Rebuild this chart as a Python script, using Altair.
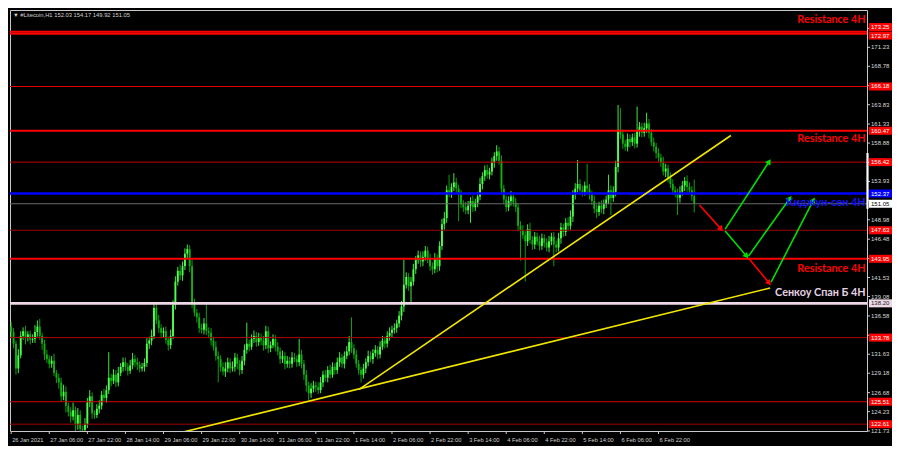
import math
import altair as alt
import pandas as pd

# ---------------- data ----------------
start_open = 135.2
closes = [
    134.5, 133.0, 129.8, 131.5, 134.0, 134.6, 133.8, 134.2, 133.5, 133.6, 134.5, 135.2, 134.0, 133.0, 131.6, 131.0,
    130.4, 130.8, 129.2, 128.6, 128.0, 126.2, 126.8, 125.0, 124.2, 123.6, 124.4, 122.6, 123.8, 122.0, 121.9, 122.6,
    125.4, 126.2, 124.0, 123.8, 124.6, 125.0, 126.4, 126.0, 127.0, 128.6, 128.2, 129.0, 128.0, 129.2, 130.0, 130.6,
    130.0, 129.5, 130.2, 131.0, 130.6, 130.3, 129.8, 130.0, 130.5, 133.0, 133.4, 134.0, 137.6, 136.0, 135.0, 134.4,
    134.6, 133.5, 132.8, 134.0, 138.0, 141.0, 142.4, 141.8, 143.0, 144.6, 145.2, 143.0, 138.2, 137.0, 136.4, 135.0,
    134.8, 135.6, 134.6, 134.4, 133.4, 132.6, 131.4, 131.0, 130.0, 129.4, 129.8, 130.6, 129.8, 130.0, 131.2, 130.4,
    129.6, 130.8, 132.2, 133.0, 132.6, 133.6, 134.0, 133.2, 133.8, 133.4, 132.8, 134.6, 132.4, 132.8, 133.6, 132.6,
    132.0, 131.0, 131.4, 130.4, 130.8, 130.4, 131.2, 131.0, 130.6, 131.6, 130.4, 129.0, 127.6, 126.6, 127.2, 127.6,
    127.4, 127.0, 128.0, 129.0, 128.6, 129.6, 129.0, 130.0, 129.6, 130.6, 131.2, 130.4, 131.4, 132.0, 133.2, 132.4,
    131.6, 130.4, 129.6, 129.0, 129.8, 130.6, 131.4, 131.0, 131.8, 132.2, 131.6, 132.6, 133.4, 133.0, 134.0, 134.4,
    134.8, 135.0, 135.6, 136.6, 137.8, 140.6, 141.6, 140.4, 141.0, 142.6, 143.8, 144.4, 143.6, 144.2, 145.0, 144.0,
    143.0, 142.6, 144.0, 143.0, 145.6, 148.4, 149.2, 152.8, 152.4, 153.2, 153.8, 153.0, 152.2, 151.0, 150.6, 150.2,
    150.8, 151.4, 150.6, 151.2, 152.0, 153.6, 154.6, 155.4, 154.8, 155.2, 156.4, 157.2, 157.8, 156.6, 153.0, 151.6,
    150.6, 151.4, 152.0, 151.2, 150.6, 148.2, 147.6, 147.0, 146.2, 147.8, 146.4, 145.8, 146.8, 146.2, 145.6, 146.6,
    146.0, 145.4, 146.2, 146.8, 145.8, 145.4, 146.6, 148.0, 147.4, 148.6, 148.2, 149.4, 152.2, 153.0, 153.6, 152.8,
    152.6, 153.4, 153.0, 152.2, 151.4, 150.4, 150.0, 150.8, 150.4, 151.0, 151.6, 152.8, 151.8, 152.6, 155.8, 160.6,
    160.0, 158.8, 158.4, 159.4, 159.0, 159.6, 158.8, 160.4, 161.0, 160.2, 160.8, 161.4, 160.2, 159.0, 158.4, 157.6,
    157.0, 156.4, 155.2, 155.6, 154.4, 153.6, 152.8, 152.4, 151.8, 152.6, 153.4, 154.0, 153.2, 152.8, 152.03, 151.05,
]
upper_wick = [
    0.6, 0.5, 0.4, 0.8, 0.6, 0.5, 0.7, 0.4, 0.5, 0.6, 0.9, 0.8, 1.0, 0.4, 0.5, 0.6,
    0.5, 0.6, 0.9, 0.4, 0.5, 0.6, 0.9, 0.7, 0.4, 0.6, 1.0, 0.5, 0.9, 0.6, 0.4, 0.8,
    0.6, 0.8, 0.5, 0.4, 0.6, 0.7, 0.5, 0.8, 0.6, 3.3, 0.5, 0.7, 0.6, 0.8, 0.5, 0.6,
    0.6, 0.5, 0.7, 0.8, 0.5, 0.6, 0.4, 0.5, 0.6, 0.7, 0.5, 0.8, 0.5, 0.6, 0.7, 0.5,
    0.5, 0.6, 0.4, 0.8, 0.6, 0.7, 0.5, 0.8, 0.6, 0.7, 0.6, 0.5, 0.8, 0.6, 0.5, 0.6,
    0.6, 0.7, 2.7, 0.5, 0.6, 0.5, 0.7, 0.6, 0.5, 0.6, 0.8, 0.6, 0.5, 0.7, 0.6, 0.5,
    0.5, 0.6, 0.7, 2.7, 0.5, 0.6, 0.7, 0.5, 0.6, 0.5, 0.6, 0.7, 0.6, 0.5, 0.6, 0.5,
    0.6, 0.5, 0.7, 0.5, 0.6, 0.5, 0.7, 0.6, 0.5, 2.0, 0.6, 0.5, 0.6, 0.5, 0.7, 0.6,
    0.5, 0.6, 0.7, 0.5, 0.6, 0.5, 0.7, 0.6, 0.5, 0.6, 0.7, 0.5, 0.6, 0.7, 0.8, 3.2,
    0.5, 0.6, 0.5, 0.4, 0.6, 0.5, 0.7, 0.6, 0.5, 0.6, 0.5, 0.7, 0.6, 0.5, 0.6, 0.7,
    0.5, 0.6, 0.5, 0.6, 0.7, 3.2, 0.6, 0.5, 0.6, 0.7, 0.5, 0.6, 0.5, 0.7, 0.6, 0.5,
    0.6, 0.5, 0.7, 0.5, 0.6, 0.7, 0.8, 0.6, 2.0, 0.5, 1.2, 0.6, 0.5, 0.6, 0.5, 0.7,
    0.6, 0.5, 0.7, 0.5, 0.6, 0.8, 0.5, 0.6, 0.7, 0.5, 0.6, 0.5, 0.8, 0.6, 0.7, 0.5,
    0.5, 0.6, 0.7, 0.5, 0.6, 0.5, 0.6, 0.7, 0.5, 0.6, 0.8, 0.5, 0.6, 0.5, 0.7, 0.6,
    0.5, 0.6, 0.7, 0.5, 0.6, 0.5, 0.7, 0.6, 0.5, 0.6, 0.7, 0.8, 0.6, 0.7, 3.1, 0.6,
    0.6, 0.5, 2.8, 0.6, 0.5, 0.7, 0.6, 0.5, 0.7, 0.6, 0.5, 2.0, 0.6, 0.7, 0.8, 3.2,
    2.8, 0.6, 0.5, 0.7, 0.6, 0.5, 0.6, 3.2, 0.6, 0.5, 0.7, 1.4, 0.6, 0.5, 0.6, 0.5,
    0.6, 0.5, 0.7, 0.6, 0.5, 0.7, 0.6, 0.5, 0.6, 0.7, 0.6, 0.5, 0.7, 0.6, 0.5, 2.14,
]
lower_wick = [
    0.8, 0.6, 0.8, 0.6, 0.4, 0.5, 0.9, 0.5, 0.6, 0.4, 0.5, 0.6, 0.5, 0.8, 0.7, 0.5,
    0.6, 0.5, 0.4, 0.7, 0.8, 0.6, 0.5, 0.9, 0.6, 0.8, 0.5, 0.9, 0.7, 1.0, 0.8, 0.6,
    0.5, 0.6, 0.7, 0.5, 0.4, 0.6, 0.5, 0.4, 0.6, 0.5, 0.7, 0.4, 0.6, 0.5, 0.4, 0.6,
    0.5, 0.6, 0.4, 0.5, 0.6, 0.7, 0.5, 0.4, 0.6, 0.5, 0.7, 0.6, 0.4, 0.5, 0.6, 0.7,
    0.6, 0.5, 0.7, 0.5, 0.4, 0.6, 0.5, 0.6, 0.7, 0.5, 0.6, 0.8, 0.6, 0.5, 0.7, 0.6,
    0.5, 0.6, 0.5, 0.7, 0.6, 0.5, 0.6, 3.0, 0.6, 0.5, 0.7, 0.5, 0.6, 0.4, 0.6, 0.7,
    0.7, 0.5, 0.6, 0.5, 0.6, 0.4, 0.5, 0.6, 0.5, 0.6, 0.7, 0.5, 0.6, 0.5, 0.4, 0.6,
    0.5, 0.6, 0.5, 0.7, 0.5, 0.6, 0.5, 0.4, 0.6, 0.5, 0.6, 0.7, 0.8, 0.9, 0.6, 0.5,
    0.6, 0.5, 0.4, 0.6, 0.5, 0.6, 0.5, 0.4, 0.6, 0.5, 0.6, 0.5, 0.6, 0.4, 0.5, 0.6,
    0.6, 0.5, 0.6, 1.0, 0.5, 0.6, 0.5, 0.4, 0.6, 0.5, 0.6, 0.5, 0.4, 0.6, 0.5, 0.6,
    0.6, 0.5, 0.6, 0.5, 0.6, 0.7, 0.5, 0.6, 2.2, 0.5, 0.6, 0.5, 0.7, 0.6, 0.5, 0.6,
    0.6, 0.7, 0.5, 0.8, 0.6, 0.5, 0.7, 0.6, 0.5, 0.6, 0.5, 0.6, 3.4, 0.5, 0.6, 0.5,
    0.5, 2.2, 0.6, 0.5, 0.6, 0.5, 0.7, 0.6, 0.5, 0.6, 0.5, 0.7, 0.6, 0.5, 0.7, 0.6,
    0.6, 0.5, 0.6, 0.5, 0.6, 0.7, 3.9, 0.5, 5.2, 0.6, 0.5, 0.7, 0.6, 0.5, 0.6, 0.5,
    0.6, 0.5, 0.6, 0.5, 2.8, 0.6, 0.5, 0.7, 0.6, 0.5, 0.6, 0.5, 0.7, 0.6, 0.5, 0.6,
    0.6, 0.5, 0.7, 0.6, 0.5, 0.6, 0.8, 0.5, 0.6, 0.7, 0.5, 0.6, 2.2, 0.5, 0.6, 0.7,
    0.6, 0.7, 0.5, 0.6, 0.7, 0.5, 0.6, 0.5, 0.7, 0.6, 0.5, 0.6, 0.7, 0.5, 0.6, 0.7,
    0.5, 0.6, 0.5, 0.7, 0.6, 0.5, 0.6, 0.5, 2.2, 0.6, 0.5, 0.7, 0.6, 0.5, 0.6, 1.13,
]

time_idx = [0, 16, 32, 48, 64, 80, 96, 112, 128, 144, 160, 176, 192, 208, 224, 240, 256, 272]
time_labels = ["26 Jan 2021", "27 Jan 06:00", "27 Jan 22:00", "28 Jan 14:00", "29 Jan 06:00",
               "29 Jan 22:00", "30 Jan 14:00", "31 Jan 06:00", "31 Jan 22:00", "1 Feb 14:00",
               "2 Feb 06:00", "2 Feb 22:00", "3 Feb 14:00", "4 Feb 06:00", "4 Feb 22:00",
               "5 Feb 14:00", "6 Feb 06:00", "6 Feb 22:00"]

grid_prices = [121.73, 124.23, 126.68, 129.18, 131.63, 134.08, 136.58, 139.08, 141.53, 143.98,
               146.48, 148.98, 151.43, 153.93, 156.38, 158.88, 161.33, 163.83, 166.28, 168.78,
               171.23, 173.68]
scale_labels = ["121.73", "124.23", "126.68", "129.18", "131.63", "136.58", "139.08", "141.53",
                "146.48", "148.98", "153.93", "158.88", "161.33", "163.83", "168.78", "171.23"]

levels = [173.25, 172.97, 166.18, 160.47, 156.42, 152.37, 151.05, 147.63, 143.95, 138.20, 133.78, 125.51, 122.61]
level_label_at = [173.85, 172.75, 166.18, 160.47, 156.42, 152.37, 151.05, 147.63, 143.95, 138.20, 133.78, 125.51, 122.61]
level_colors = ["#ff0000", "#ff0000", "#e00000", "#ff0000", "#c80000", "#0000ff", "#6a6a6a",
                "#a00000", "#ff0000", "#f0d8e8", "#b00000", "#d00000", "#a00000"]
level_widths = [2, 2, 1.2, 2, 1, 2.6, 1.2, 1, 2, 2.6, 1, 1, 1]
box_colors = ["#ff0000", "#ff0000", "#ff0000", "#ff0000", "#ff0000", "#0000ff", "#ffffff",
              "#ff0000", "#ff0000", "#eed8e6", "#ff0000", "#ff0000", "#ff0000"]
box_text_colors = ["#ffffff"] * 6 + ["#000000"] + ["#ffffff"] * 2 + ["#202020"] + ["#ffffff"] * 3

notes = ["Resistance 4H", "Resistance 4H", "Киджун-сен 4H", "Resistance 4H", "Сенкоу Спан Б 4H"]
note_idx = [359, 359, 359, 359, 359]
note_price = [174.8, 159.36, 151.2, 142.67, 139.5]
note_colors = ["#ff0000", "#ff0000", "#1414ff", "#ff0000", "#e4d2e2"]

trend_line = ["a", "a", "b", "b"]
trend_idx = [71.0, 318.9, 146.2, 302.4]
trend_price = [121.5, 140.18, 127.1, 159.86]

arrow_color = ["#ff0000", "#ff0000", "#00e000", "#00e000", "#00e000", "#00e000"]
arrow_i1 = [289.2, 309.8, 300.0, 300.0, 309.8, 319.3]
arrow_p1 = [150.89, 144.04, 147.78, 147.53, 144.29, 140.93]
arrow_i2 = [298.3, 318.5, 318.5, 309.0, 327.2, 337.1]
arrow_p2 = [147.78, 140.81, 156.5, 144.29, 151.77, 151.52]

# bright marker on the price scale edge (price span)
scale_marker = [157.6, 150.4]

header = "▼ #Litecoin,H1  152.03 154.17 149.92 151.05"

# ---------------- layout ----------------
W_PLOT = 857
H_PLOT = 421
X_DOM = [-0.5, 359.6]
Y_DOM = [121.73, 176.05]
SMALL_FONT = "Liberation Sans"
NOTE_FONT = "Lato"

xs = alt.Scale(domain=X_DOM, nice=False, zero=False)
ys = alt.Scale(domain=Y_DOM, nice=False, zero=False)

opens = [start_open] + closes[:-1]
candles = pd.DataFrame({
    "i": list(range(len(closes))),
    "open": opens,
    "close": closes,
    "high": [max(o, c) + u for o, c, u in zip(opens, closes, upper_wick)],
    "low": [min(o, c) - l for o, c, l in zip(opens, closes, lower_wick)],
    "dir": ["up" if c >= o else "down" for o, c in zip(opens, closes)],
})

gx = alt.Axis(values=list(range(0, 361, 8)), grid=True, gridColor="#6e6e6e", gridDash=[2, 2],
              gridWidth=1, labels=False, ticks=False, domain=False, title=None)
gy = alt.Axis(values=grid_prices, grid=True, gridColor="#6e6e6e", gridDash=[2, 2],
              gridWidth=1, labels=False, ticks=False, domain=False, title=None)

col_scale = alt.Scale(domain=["up", "down"], range=["#4cff4c", "#10b010"])

wicks = alt.Chart(candles).mark_rule(strokeWidth=0.9, clip=True).encode(
    x=alt.X("i:Q", scale=xs, axis=gx),
    y=alt.Y("low:Q", scale=ys, axis=gy),
    y2="high:Q",
    color=alt.Color("dir:N", scale=col_scale, legend=None),
)
bodies = alt.Chart(candles).mark_rule(strokeWidth=1.9, clip=True).encode(
    x=alt.X("i:Q", scale=xs, axis=None),
    y=alt.Y("open:Q", scale=ys, axis=None),
    y2="close:Q",
    color=alt.Color("dir:N", scale=col_scale, legend=None),
)

lv = pd.DataFrame({"p": levels, "lp": level_label_at, "c": level_colors, "w": level_widths,
                   "bc": box_colors, "tc": box_text_colors,
                   "t": [f"{v:.2f}" for v in levels]})
level_lines = alt.Chart(lv).mark_rule().encode(
    y=alt.Y("p:Q", scale=ys, axis=None),
    color=alt.Color("c:N", scale=None),
    strokeWidth=alt.StrokeWidth("w:Q", scale=None),
)

tr = pd.DataFrame({"line": trend_line, "i": trend_idx, "p": trend_price})
trends = alt.Chart(tr).mark_line(color="#f2e600", strokeWidth=1.6, clip=True).encode(
    x=alt.X("i:Q", scale=xs, axis=None),
    y=alt.Y("p:Q", scale=ys, axis=None),
    detail="line:N",
)

sx = W_PLOT / (X_DOM[1] - X_DOM[0])
sy = H_PLOT / (Y_DOM[1] - Y_DOM[0])
ang = []
for a, b, c, d in zip(arrow_i1, arrow_p1, arrow_i2, arrow_p2):
    dx = (c - a) * sx
    dy = -(d - b) * sy
    ang.append(math.degrees(math.atan2(dx, -dy)) % 360)
ar = pd.DataFrame({"i1": arrow_i1, "p1": arrow_p1, "i2": arrow_i2, "p2": arrow_p2,
                   "c": arrow_color, "a": ang})
arrow_lines = alt.Chart(ar).mark_rule(strokeWidth=1.6).encode(
    x=alt.X("i1:Q", scale=xs, axis=None), x2="i2:Q",
    y=alt.Y("p1:Q", scale=ys, axis=None), y2="p2:Q",
    color=alt.Color("c:N", scale=None),
)
arrow_heads = alt.Chart(ar).mark_point(shape="triangle-up", filled=True, size=42, opacity=1).encode(
    x=alt.X("i2:Q", scale=xs, axis=None),
    y=alt.Y("p2:Q", scale=ys, axis=None),
    color=alt.Color("c:N", scale=None),
    angle=alt.Angle("a:Q", scale=None),
)

nt = pd.DataFrame({"t": notes, "i": note_idx, "p": note_price, "c": note_colors})
note_text = alt.Chart(nt).mark_text(font=NOTE_FONT, fontWeight="bold", fontSize=10.8, align="right",
                                    baseline="middle").encode(
    x=alt.X("i:Q", scale=xs, axis=None),
    y=alt.Y("p:Q", scale=ys, axis=None),
    text="t:N",
    color=alt.Color("c:N", scale=None),
)

sl = pd.DataFrame({"t": scale_labels, "p": [float(s) for s in scale_labels]})
scale_text = alt.Chart(sl).mark_text(font=SMALL_FONT, fontSize=6.0, align="left", baseline="middle",
                                     color="#d8d8d8").encode(
    x=alt.value(W_PLOT + 4),
    y=alt.Y("p:Q", scale=ys, axis=None),
    text="t:N",
)
scale_ticks = alt.Chart(pd.DataFrame({"p": grid_prices})).mark_rule(color="#c8c8c8").encode(
    x=alt.value(W_PLOT), x2=alt.value(W_PLOT + 3),
    y=alt.Y("p:Q", scale=ys, axis=None),
)
marker = alt.Chart(pd.DataFrame({"a": [scale_marker[0]], "b": [scale_marker[1]]})).mark_rule(
    color="#ffffff", strokeWidth=2.2).encode(
    x=alt.value(W_PLOT + 0.5),
    y=alt.Y("a:Q", scale=ys, axis=None), y2="b:Q",
)

boxes = alt.Chart(lv).mark_rule(strokeWidth=8).encode(
    x=alt.value(W_PLOT + 2), x2=alt.value(W_PLOT + 25),
    y=alt.Y("lp:Q", scale=ys, axis=None),
    color=alt.Color("bc:N", scale=None),
)
box_text = alt.Chart(lv).mark_text(font=SMALL_FONT, fontSize=6.0, align="left", baseline="middle").encode(
    x=alt.value(W_PLOT + 4),
    y=alt.Y("lp:Q", scale=ys, axis=None),
    text="t:N",
    color=alt.Color("tc:N", scale=None),
)

tl = pd.DataFrame({"i": time_idx, "t": time_labels})
time_text = alt.Chart(tl).mark_text(font=SMALL_FONT, fontSize=5.7, align="left", baseline="middle",
                                    color="#d0d0d0", dx=1).encode(
    x=alt.X("i:Q", scale=xs, axis=None),
    y=alt.value(H_PLOT + 8.5),
    text="t:N",
)
time_ticks = alt.Chart(tl).mark_rule(color="#c8c8c8").encode(
    x=alt.X("i:Q", scale=xs, axis=None),
    y=alt.value(H_PLOT), y2=alt.value(H_PLOT + 3),
)

head = alt.Chart(pd.DataFrame({"t": [header]})).mark_text(font=SMALL_FONT, fontSize=5.8, align="left",
                                                          baseline="middle", color="#d0d0d0").encode(
    x=alt.value(3), y=alt.value(4.5), text="t:N",
)

chart = alt.layer(
    wicks, bodies, level_lines, trends, arrow_lines, arrow_heads, note_text,
    scale_ticks, marker, scale_text, boxes, box_text, time_ticks, time_text, head,
).properties(
    width=W_PLOT, height=H_PLOT,
    autosize=alt.AutoSizeParams(type="none"),
    padding={"left": 2, "top": 2, "right": 25, "bottom": 15},
    background="#000000",
).configure_view(stroke="#c8c8c8", strokeWidth=1)

chart.save("out.html", embed_options={"renderer": "svg", "actions": False})
